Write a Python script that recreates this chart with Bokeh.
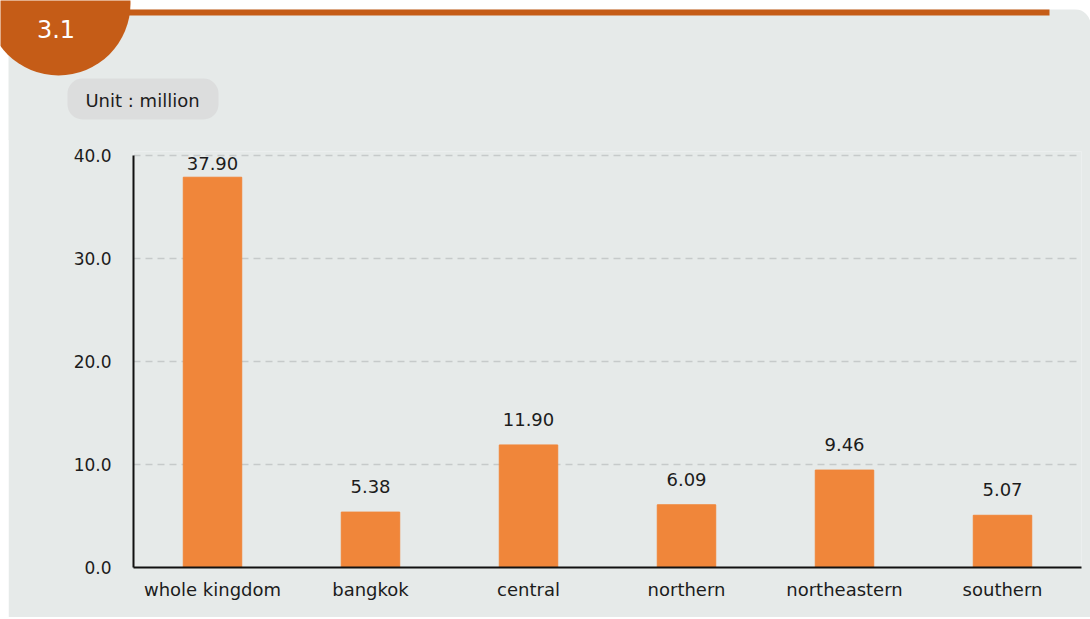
import numpy as np
from bokeh.plotting import figure
from bokeh.models import ColumnDataSource, FactorRange, Range1d, BoxAnnotation, Label, FixedTicker
from bokeh.core.properties import value
from bokeh.embed import file_html
from bokeh.resources import INLINE

# ---- data ----
regions = ["whole kingdom", "bangkok", "central", "northern", "northeastern", "southern"]
amounts = [37.90, 5.38, 11.90, 6.09, 9.46, 5.07]
y_ticks = [0, 10, 20, 30, 40]
y_tick_labels = ["0.0", "10.0", "20.0", "30.0", "40.0"]
badge_text = "3.1"
unit_text = "Unit : million"

# ---- style ----
PANEL = "#E6EAE9"
ORANGE = "#F0863A"
RUST = "#C55C17"
PILL = "#DCDDDD"
INK = "#1C1C1C"
FONT = "DejaVu Sans"
HEAD_W, HEAD_H = 1090, 140
MAIN_W, MAIN_H = 1082, 478

# ---- header strip (badge, rule, unit pill) ----
header = figure(width=HEAD_W, height=HEAD_H, x_range=Range1d(0, HEAD_W), y_range=Range1d(0, HEAD_H),
                output_backend="svg", toolbar_location=None, min_border=0,
                x_axis_location=None, y_axis_location=None)
header.grid.visible = False
header.outline_line_color = None
header.background_fill_color = "white"
header.border_fill_color = "white"
header.add_layout(BoxAnnotation(left=8, right=1090, top=131, bottom=-30, fill_color=PANEL,
                                fill_alpha=1, line_alpha=0, border_radius=15, level="underlay"))
header.quad(left=[50], right=[1049], top=[131], bottom=[125], color=RUST, line_color=None)
header.circle(x=[58], y=[137], radius=72, color=RUST, line_color=None)
header.add_layout(Label(x=55.5, y=112, text=badge_text, text_align="center",
                        text_baseline="alphabetic", text_color="white",
                        text_font_size="24px", text_font=FONT))
header.add_layout(BoxAnnotation(left=67, right=218, top=62, bottom=21, fill_color=PILL,
                                fill_alpha=1, line_alpha=0, border_radius=15))
header.add_layout(Label(x=142, y=40, text=unit_text, text_align="center",
                        text_baseline="alphabetic", text_color=INK,
                        text_font_size="18px", text_font=FONT))

# ---- main chart ----
vals = np.array(amounts)
src = ColumnDataSource(dict(
    region=regions,
    amount=amounts,
    label=[f"{v:.2f}" for v in amounts],
    label_y=np.minimum(vals + 2.5, 39.2),
))

p = figure(width=MAIN_W, height=MAIN_H, x_range=FactorRange(*regions, range_padding=0),
           y_range=Range1d(0, 40.4), output_backend="svg", toolbar_location=None,
           min_border_left=125, min_border_right=9, min_border_top=12, min_border_bottom=50,
           margin=(-1, 0, 0, 8))
p.outline_line_color = None
p.background_fill_color = PANEL
p.border_fill_color = PANEL

p.vbar(x="region", top="amount", width=0.37, source=src, fill_color=ORANGE, line_color=ORANGE)
p.text(x="region", y="label_y", text="label", source=src, text_align="center",
       text_baseline="alphabetic", text_font=value(FONT), text_font_size="18px", text_color=INK)

p.xgrid.visible = False
p.ygrid.grid_line_color = "#C6CACA"
p.ygrid.grid_line_dash = "7 5"
p.ygrid.grid_line_width = 1.3

p.yaxis.ticker = FixedTicker(ticks=y_ticks)
p.yaxis.major_label_overrides = {t: l for t, l in zip(y_ticks, y_tick_labels)}
p.yaxis.bounds = (0, 40)
for ax in (p.xaxis[0], p.yaxis[0]):
    ax.axis_line_color = "#111111"
    ax.axis_line_width = 2
    ax.major_tick_in = 0
    ax.major_tick_out = 0
    ax.minor_tick_in = 0
    ax.minor_tick_out = 0
    ax.major_label_text_font = FONT
    ax.major_label_text_color = INK
p.yaxis.major_label_text_font_size = "17px"
p.yaxis.major_label_standoff = 22
p.xaxis.major_label_text_font_size = "18px"
p.xaxis.major_label_standoff = 11

open("out.html", "w").write(file_html([header, p], INLINE))
